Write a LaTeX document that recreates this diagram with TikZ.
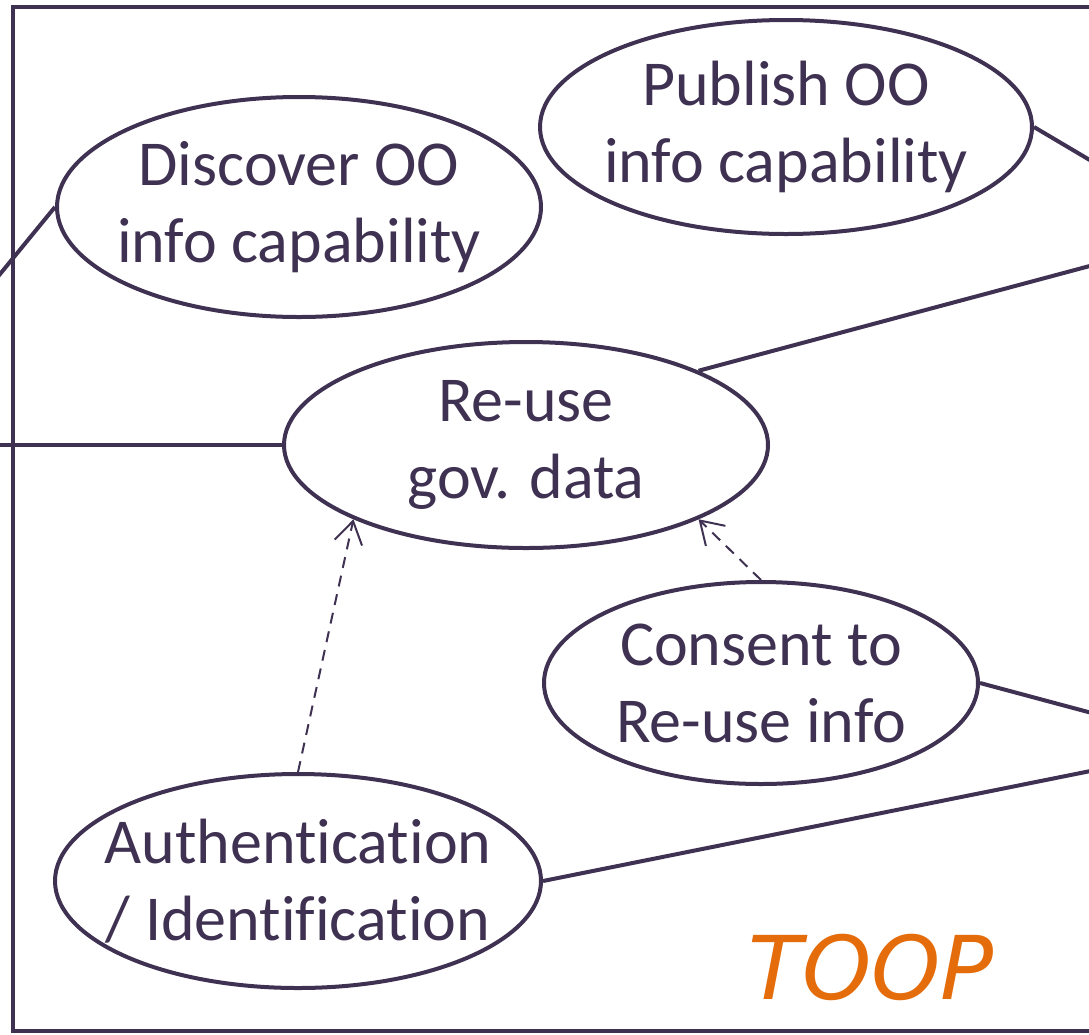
\documentclass[tikz,border=0pt]{standalone}
\usepackage{fontspec}
\setmainfont{Carlito}[Ligatures=NoCommon]
\newfontfamily\toopfont{DejaVu Sans}
\usetikzlibrary{shapes.geometric,arrows.meta}
\definecolor{toopline}{HTML}{3F3151}
\definecolor{tooporange}{HTML}{E46C0A}
\tikzset{
  usecase/.style={ellipse,draw=toopline,line width=4pt,inner xsep=-40pt,inner ysep=-30pt,
    align=center,text=toopline,font=\fontsize{64}{77}\selectfont},
  link/.style={draw=toopline,line width=4pt},
  dep/.style={draw=toopline,line width=2pt,dash pattern=on 11pt off 8pt,
    -{Straight Barb[length=22pt,width=28pt]}}
}
\begin{document}
\begin{tikzpicture}[x=1pt,y=-1pt]
\clip (0,0) rectangle (1089,1034);
\draw[link] (13,7) rectangle (1300,1031);

\node[usecase,minimum width=484pt,minimum height=220pt] (discover) at (299,207) {Discover OO\\info capability};
\node[usecase,minimum width=492pt,minimum height=214pt] (publish) at (786,127) {Publish OO\\info capability};
\node[usecase,minimum width=484pt,minimum height=206pt] (reuse) at (526,445) {Re-use\\gov. data};
\node[usecase,minimum width=434pt,minimum height=202pt] (consent) at (761,683) {Consent to\\Re-use info};
\node[usecase,minimum width=486pt,minimum height=214pt] (auth) at (298,881) {Authentication\\/ Identification};
\coordinate (userL) at (-140,445);
\coordinate (userR1) at (1213,233);
\coordinate (userR2) at (1215,746);

\draw[link] (discover.west) edge (userL);
\draw[link] (reuse.west) edge (userL);
\draw[link] (publish.east) edge (userR1);
\draw[link] (reuse.north east) edge (userR1);
\draw[link] (consent.east) edge (userR2);
\draw[link] (auth.east) edge (userR2);

\draw[dep] (auth.north) -- (reuse.south west);
\draw[dep] (consent.north) -- (reuse.south east);

\node[text=tooporange,font=\toopfont\itshape\fontsize{88}{90}\selectfont] (toop) at (871,967) {TOOP};
\end{tikzpicture}
\end{document}
